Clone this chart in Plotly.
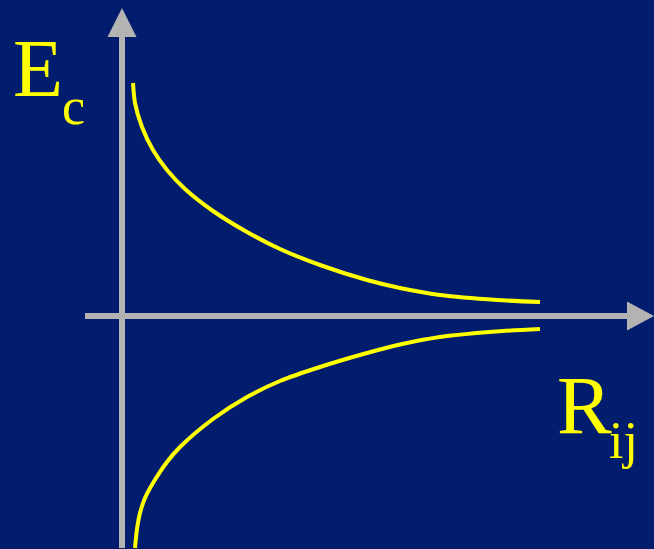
import plotly.graph_objects as go

# Curve values (origin at the axes' crossing, y up)
upper_r = [11, 13, 20, 31, 45, 63, 91, 125, 158, 198, 245, 278, 318, 375, 418]
upper_e = [233, 213, 189, 166, 146, 127, 105, 84, 67, 51, 36, 28, 21, 16, 14]
lower_r = [13, 15, 18, 23, 31, 45, 58, 91, 125, 158, 198, 245, 278, 318, 381, 418]
lower_e = [-232, -213, -197, -182, -167, -146, -131, -103, -81, -65, -51, -37, -28.5, -21, -15, -13]

y_label = "E"
y_sub = "c"
x_label = "R"
x_sub = "ij"

BG = "#021d6e"
AXIS = "#b3b3b3"
YEL = "#ffff00"
FONT = "Liberation Serif"

fig = go.Figure()
fig.add_trace(go.Scatter(x=upper_r, y=upper_e, mode="lines",
                         line=dict(color=YEL, width=4, shape="spline", smoothing=0.8),
                         hoverinfo="skip", showlegend=False))
fig.add_trace(go.Scatter(x=lower_r, y=lower_e, mode="lines",
                         line=dict(color=YEL, width=4, shape="spline", smoothing=0.8),
                         hoverinfo="skip", showlegend=False))

shapes = [
    # vertical axis
    dict(type="line", x0=0, x1=0, y0=-232, y1=280, line=dict(color=AXIS, width=6)),
    dict(type="path", path="M -14.5 279 L 14.5 279 L 0 308 Z",
         fillcolor=AXIS, line=dict(width=0)),
    # horizontal axis
    dict(type="line", x0=-37, x1=506, y0=0, y1=0, line=dict(color=AXIS, width=6)),
    dict(type="path", path="M 505 14.5 L 505 -14.5 L 532 0 Z",
         fillcolor=AXIS, line=dict(width=0)),
]

annotations = [
    dict(x=-111, y=248, text=y_label, showarrow=False, xanchor="left", yanchor="middle",
         font=dict(family=FONT, size=82, color=YEL)),
    dict(x=-62, y=210, text=y_sub, showarrow=False, xanchor="left", yanchor="middle",
         font=dict(family=FONT, size=52, color=YEL)),
    dict(x=433, y=-89, text=x_label, showarrow=False, xanchor="left", yanchor="middle",
         font=dict(family=FONT, size=82, color=YEL)),
    dict(x=485, y=-124, text=x_sub, showarrow=False, xanchor="left", yanchor="middle",
         font=dict(family=FONT, size=52, color=YEL)),
]

fig.update_layout(
    width=654, height=549,
    margin=dict(l=0, r=0, t=0, b=0),
    paper_bgcolor=BG, plot_bgcolor=BG,
    xaxis=dict(range=[-122, 532], visible=False, fixedrange=True),
    yaxis=dict(range=[-233, 316], visible=False, fixedrange=True),
    shapes=shapes, annotations=annotations,
    showlegend=False,
)

fig.write_html(
    "out.html",
    config={"displayModeBar": False},
    post_script="document.body.style.margin='0';document.body.style.background='" + BG + "';",
)
